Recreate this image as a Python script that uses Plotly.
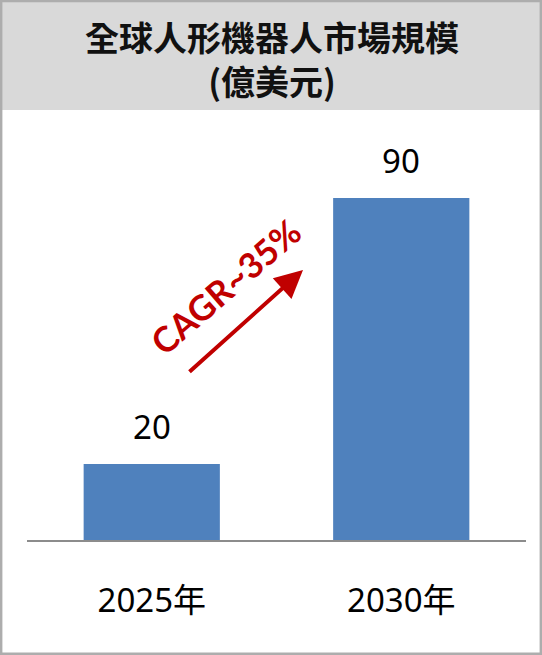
import plotly.graph_objects as go

categories = ["2025年", "2030年"]
values = [20, 90]
value_labels = ["20", "90"]
title_lines = ["全球人形機器人市場規模", "(億美元)"]
cagr_text = "CAGR~35%"

W, H = 542, 655
ML, MR, MT, MB = 27, 16, 160, 115
PW, PH = W - ML - MR, H - MT - MB


def px_x(p):
    return (p - ML) / PW


def px_y(p):
    return (H - MB - p) / PH


fig = go.Figure()
fig.add_trace(go.Bar(
    x=categories, y=values,
    marker=dict(color="#4F81BD", line=dict(width=0)),
    width=0.546,
    hoverinfo="skip",
))

for c, v, t in zip(categories, values, value_labels):
    fig.add_annotation(x=c, y=v, xref="x", yref="y", text=t, showarrow=False,
                       yanchor="bottom", yshift=13,
                       font=dict(family="Noto Sans", size=33, color="#000000"))

# title box
fig.add_shape(type="rect", xref="paper", yref="paper",
              x0=px_x(0), x1=px_x(W), y0=px_y(110), y1=px_y(0),
              fillcolor="#D9D9D9", line=dict(width=0), layer="below")
# outer border
fig.add_shape(type="rect", xref="paper", yref="paper",
              x0=px_x(1.2), x1=px_x(W - 1.2), y0=px_y(H - 1.2), y1=px_y(1.0),
              fillcolor="rgba(0,0,0,0)", line=dict(width=2.4, color="#ADADAD"), layer="above")

fig.add_annotation(xref="paper", yref="paper", x=px_x(272), y=px_y(58),
                   text="<br>".join(title_lines), showarrow=False,
                   xanchor="center", yanchor="middle",
                   font=dict(family="Noto Sans CJK TC", size=34, color="#111111", weight="bold"))

# CAGR arrow
fig.add_annotation(xref="paper", yref="paper", x=px_x(303), y=px_y(270),
                   ax=-115, ay=103, axref="pixel", ayref="pixel",
                   text="", showarrow=True, arrowhead=2, arrowsize=1.4,
                   arrowwidth=4, arrowcolor="#C00000")
fig.add_annotation(xref="paper", yref="paper", x=px_x(225), y=px_y(286),
                   text="<b>" + cagr_text + "</b>", showarrow=False, textangle=-41,
                   xanchor="center", yanchor="middle",
                   font=dict(family="Lato", size=35, color="#C00000"))

fig.update_layout(
    width=W, height=H,
    margin=dict(l=ML, r=MR, t=MT, b=MB, pad=0),
    paper_bgcolor="white", plot_bgcolor="white",
    showlegend=False,
    xaxis=dict(type="category", range=[-0.5, 1.5], showline=True, linecolor="#8C8C8C",
               linewidth=2, showgrid=False, ticks="", ticklabelstandoff=30,
               tickfont=dict(family="Noto Sans, Noto Sans CJK TC", size=33, color="#000000"),
               fixedrange=True, zeroline=False),
    yaxis=dict(range=[0, 100], visible=False, showgrid=False, zeroline=False, fixedrange=True),
)

fig.write_html("out.html", config={"displayModeBar": False},
               post_script="document.body.style.margin='0px';document.body.style.overflow='hidden';")
